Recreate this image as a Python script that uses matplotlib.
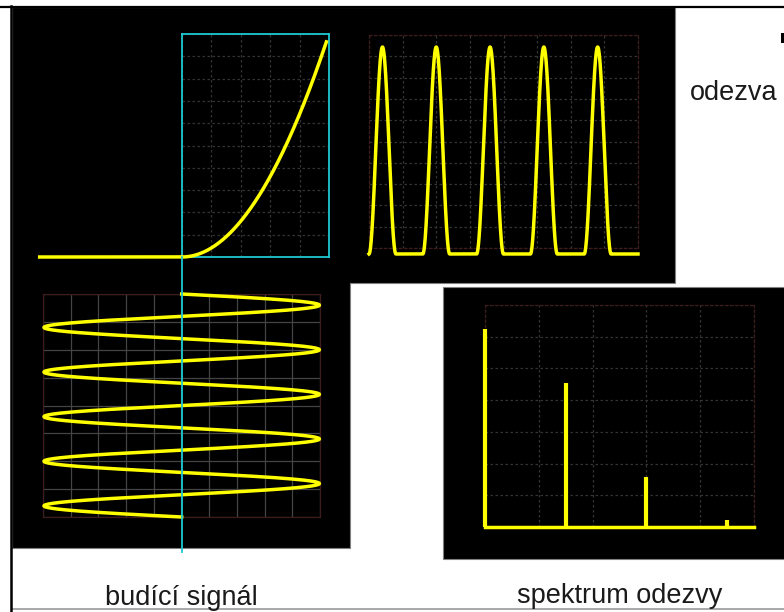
import numpy as np
import matplotlib
matplotlib.use("Agg")
import matplotlib.pyplot as plt
from matplotlib.patches import Polygon, Rectangle

# ---------------- data ----------------
# square-law characteristic: output = input ** exponent for input > 0, else 0
char_exponent = 2.0
char_x_min = -0.976          # left end of the flat part of the characteristic
char_x_max = 0.986           # right end of the characteristic curve
input_amplitude = 0.935      # amplitude of the exciting sine (characteristic units)
input_periods = 5            # number of periods shown
# spectrum of the response: harmonic index and height (grid divisions, 0..7)
spec_harmonics = [0, 1, 2, 3]
spec_heights = [6.24, 4.54, 1.58, 0.22]
labels = ["budící signál", "spektrum odezvy", "odezva"]

# ---------------- styling ----------------
W, H = 784, 612
YEL = "#ffff00"
CYAN = "#1ec8d2"
GRID_DARK = "#343434"
GRID_LIGHT = "#444444"
FRAME_RED = "#3e1c1c"
LW = 2.5
FONT = "Liberation Sans"
FS = 19.5
TXT = "#1a1a1a"

fig = plt.figure(figsize=(W / 100, H / 100), dpi=100)
fig.patch.set_facecolor("white")


def px_axes(x0, y0, x1, y1, z=2):
    ax = fig.add_axes([x0 / W, 1 - y1 / H, (x1 - x0) / W, (y1 - y0) / H], zorder=z)
    ax.patch.set_alpha(0)
    return ax


def scope_grid(ax, xt, yt, color, ls, frame_color, frame_ls):
    ax.set_xticks(xt)
    ax.set_yticks(yt)
    ax.tick_params(length=0, labelbottom=False, labelleft=False)
    ax.grid(True, color=color, lw=0.9, linestyle=ls)
    for s in ax.spines.values():
        s.set_color(frame_color)
        s.set_linewidth(0.9)
        s.set_linestyle(frame_ls)


# ---------------- background layer ----------------
bg = fig.add_axes([0, 0, 1, 1], zorder=0)
bg.set_xlim(0, W)
bg.set_ylim(H, 0)
bg.axis("off")
bg.add_patch(Polygon([(12, 7), (675, 7), (675, 283), (350, 283), (350, 548), (12, 548)],
                     closed=True, facecolor="black", edgecolor="#808080", lw=0.8))
bg.add_patch(Rectangle((443, 287), 350, 272, facecolor="black", edgecolor="#808080", lw=0.8))
bg.add_patch(Rectangle((781, 33), 5, 10, facecolor="black", edgecolor="none"))

top = fig.add_axes([0, 0, 1, 1], zorder=5)
top.set_xlim(0, W)
top.set_ylim(H, 0)
top.axis("off")
top.patch.set_alpha(0)
top.text(181.5, 605, labels[0], family=FONT, fontsize=FS, ha="center", va="baseline", color=TXT)
top.text(620, 603, labels[1], family=FONT, fontsize=FS, ha="center", va="baseline", color=TXT)
top.text(690, 100, labels[2], family=FONT, fontsize=FS, ha="left", va="baseline", color=TXT)
top.add_patch(Rectangle((0, 609), W, 5, facecolor="white", edgecolor="none"))
top.plot([12, W], [609, 609], color="#9a9a9a", lw=1.2)
top.plot([0, W], [6.5, 6.5], color="black", lw=1.6)
top.plot([11, 11], [6, H], color="black", lw=1.8)

# ---------------- transfer characteristic (cyan box) ----------------
ax_c = px_axes(181.7, 34, 329, 257, z=3)
ax_c.set_xlim(0, 1)
ax_c.set_ylim(0, 1)
scope_grid(ax_c, np.linspace(0, 1, 6), np.linspace(0, 1, 11), GRID_DARK, (0, (2, 2)), CYAN, "solid")
for s in ax_c.spines.values():
    s.set_linewidth(1.3)
cx = np.linspace(char_x_min, char_x_max, 600)
cy = np.where(cx > 0, np.clip(cx, 0, None) ** char_exponent, 0.0)
ax_c.plot(cx, cy, color=YEL, lw=LW, clip_on=False, solid_capstyle="butt", zorder=4)

# ---------------- exciting signal (bottom left) ----------------
ax_in = px_axes(43, 294, 320, 517, z=3)
xl = ((43 - 181.7) / 147.3, (320 - 181.7) / 147.3)
ax_in.set_xlim(*xl)
ax_in.set_ylim(input_periods, 0)
scope_grid(ax_in, np.linspace(xl[0], xl[1], 11), np.linspace(0, input_periods, 9),
           GRID_LIGHT, "solid", FRAME_RED, "solid")
t = np.linspace(0, input_periods, 2000)
u = input_amplitude * np.sin(2 * np.pi * t)
ax_in.plot(u, t, color=YEL, lw=LW, zorder=3, clip_on=False)
ax_in.axvline(0, ymin=-0.157, ymax=1.166, color=CYAN, lw=1.3, clip_on=False, zorder=4)

# ---------------- response (top middle) ----------------
ax_out = px_axes(369, 35, 638, 248, z=3)
scale = 207 / input_amplitude ** char_exponent
yl = ((254 - 248) / scale, (254 - 35) / scale)
ax_out.set_xlim(0, input_periods)
ax_out.set_ylim(*yl)
scope_grid(ax_out, np.linspace(0, input_periods, 9), np.linspace(yl[0], yl[1], 11),
           GRID_DARK, (0, (2, 2)), FRAME_RED, (0, (2, 2)))
resp = np.where(u > 0, np.clip(u, 0, None) ** char_exponent, 0.0)
ax_out.plot(t, resp, color=YEL, lw=LW, clip_on=False, zorder=3)

# ---------------- spectrum (bottom right) ----------------
ax_s = px_axes(485, 305, 754, 527, z=3)
ax_s.set_xlim(0, 10 / 3)
ax_s.set_ylim(0, 7)
scope_grid(ax_s, np.linspace(0, 10 / 3, 6), np.arange(0, 8),
           GRID_DARK, (0, (2, 2)), FRAME_RED, (0, (2, 2)))
ax_s.axhline(0, color=YEL, lw=LW, clip_on=False, zorder=3)
ax_s.vlines(spec_harmonics, 0, spec_heights, color=YEL, lw=3.0, clip_on=False, zorder=3)

fig.savefig("out.png", dpi=100, facecolor="white")
